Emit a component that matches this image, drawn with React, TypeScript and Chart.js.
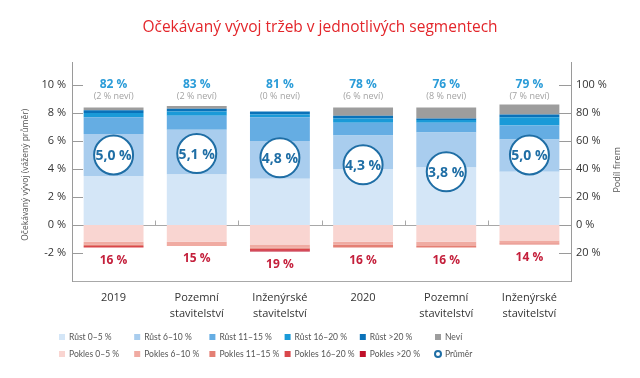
import React, { useEffect, useRef } from 'react';
import { Chart, registerables } from 'chart.js';

Chart.register(...registerables);

const categories = [
  ['2019'],
  ['Pozemní', 'stavitelství'],
  ['Inženýrské', 'stavitelství'],
  ['2020'],
  ['Pozemní', 'stavitelství'],
  ['Inženýrské', 'stavitelství'],
];

const rust0_5 = [35, 36, 33, 40, 41, 38];
const rust6_10 = [30, 32, 27, 24, 25, 23];
const rust11_15 = [12, 10, 17, 9, 7, 10];
const rust16_20 = [3, 3, 2, 3, 2, 6];
const rust20 = [2, 2, 2, 2, 1, 2];
const nevi = [2, 2, 0, 6, 8, 7];
const pokles0_5 = [-12, -12, -14, -12, -12, -11];
const pokles6_10 = [-2, -3, -2, -2, -3, -2];
const pokles11_15 = [-1, 0, -1, -2, -1, -1];
const pokles16_20 = [-1, 0, -1, 0, 0, 0];
const pokles20 = [0, 0, -1, 0, 0, 0];
const rustTotal = [82, 83, 81, 78, 76, 79];
const poklesTotal = [16, 15, 19, 16, 16, 14];
const prumer = [5.0, 5.1, 4.8, 4.3, 3.8, 5.0];

const leftTicks = [-2, 0, 2, 4, 6, 8, 10];
const rightTicks = [-20, 0, 20, 40, 60, 80, 100];

const FONT = '"Open Sans", sans-serif';
const LFONT = 'Lato, "Open Sans", sans-serif';

const C = {
  r1: '#d4e6f7',
  r2: '#a9cdee',
  r3: '#65ade3',
  r4: '#1a9ad8',
  r5: '#0a72b9',
  nevi: '#9d9d9d',
  p1: '#f9d5d1',
  p2: '#f0aba2',
  p3: '#e47f74',
  p4: '#d9474b',
  p5: '#c0102a',
  avg: '#1f6ea5',
};

const legendItems = [
  { label: 'Růst 0–5 %', color: C.r1 },
  { label: 'Růst 6–10 %', color: C.r2 },
  { label: 'Růst 11–15 %', color: C.r3 },
  { label: 'Růst 16–20 %', color: C.r4 },
  { label: 'Růst >20 %', color: C.r5 },
  { label: 'Neví', color: C.nevi },
  { label: 'Pokles 0–5 %', color: C.p1 },
  { label: 'Pokles 6–10 %', color: C.p2 },
  { label: 'Pokles 11–15 %', color: C.p3 },
  { label: 'Pokles 16–20 %', color: C.p4 },
  { label: 'Pokles >20 %', color: C.p5 },
  { label: 'Průměr', color: null },
];

const fmt = (v: number) => v.toFixed(1).replace('.', ',') + ' %';

const underlay = {
  id: 'underlay',
  beforeDatasetsDraw(chart: any) {
    const { ctx, chartArea, scales } = chart;
    const xs = scales.x;
    const yl = scales.y;
    const yr = scales.y2;
    ctx.save();
    ctx.strokeStyle = '#a8a8a8';
    ctx.lineWidth = 1;
    const y0 = Math.round(yl.getPixelForValue(0)) + 0.5;
    ctx.beginPath();
    ctx.moveTo(chartArea.left, y0);
    ctx.lineTo(chartArea.right, y0);
    ctx.stroke();
    for (let i = 1; i < categories.length; i++) {
      const bx = Math.round((xs.getPixelForValue(i - 1) + xs.getPixelForValue(i)) / 2) + 0.5;
      ctx.beginPath();
      ctx.moveTo(bx, y0 - 5);
      ctx.lineTo(bx, y0);
      ctx.stroke();
    }
    ctx.strokeStyle = '#9a9a9a';
    yl.ticks.forEach((t: any) => {
      const py = Math.round(yl.getPixelForValue(t.value)) + 0.5;
      ctx.beginPath();
      ctx.moveTo(chartArea.left, py);
      ctx.lineTo(chartArea.left + 11, py);
      ctx.stroke();
    });
    yr.ticks.forEach((t: any) => {
      const py = Math.round(yr.getPixelForValue(t.value)) + 0.5;
      ctx.beginPath();
      ctx.moveTo(chartArea.right - 12, py);
      ctx.lineTo(chartArea.right, py);
      ctx.stroke();
    });
    ctx.restore();
  },
};

const overlay = {
  id: 'overlay',
  afterDatasetsDraw(chart: any) {
    const { ctx, chartArea, scales } = chart;
    const xs = scales.x;
    const yr = scales.y2;
    ctx.save();
    ctx.textAlign = 'center';
    ctx.textBaseline = 'middle';
    for (let i = 0; i < categories.length; i++) {
      const x = xs.getPixelForValue(i);
      ctx.font = `bold 12px ${FONT}`;
      ctx.fillStyle = '#2b9cd8';
      ctx.fillText(`${rustTotal[i]} %`, x, yr.getPixelForValue(100));
      ctx.font = `9px ${FONT}`;
      ctx.fillStyle = '#a3a3a3';
      ctx.fillText(`(${nevi[i]} % neví)`, x, yr.getPixelForValue(92));
      ctx.font = `bold 12px ${FONT}`;
      ctx.fillStyle = '#c4203c';
      ctx.fillText(`${poklesTotal[i]} %`, x, yr.getPixelForValue(-poklesTotal[i]) + 13);
    }
    const meta = chart.getDatasetMeta(chart.data.datasets.length - 1);
    ctx.font = `bold 14px ${FONT}`;
    ctx.fillStyle = C.avg;
    meta.data.forEach((pt: any, i: number) => {
      ctx.fillText(fmt(prumer[i]), pt.x, pt.y + 1);
    });

    // axis titles
    const cy = (chartArea.top + chartArea.bottom) / 2;
    ctx.fillStyle = '#555';
    ctx.font = `8.5px ${FONT}`;
    ctx.save();
    ctx.translate(26, cy + 3);
    ctx.rotate(-Math.PI / 2);
    ctx.fillText('Očekávaný vývoj (vážený průměr)', 0, 0);
    ctx.restore();
    ctx.save();
    ctx.translate(617, cy - 2);
    ctx.rotate(-Math.PI / 2);
    ctx.font = `9px ${FONT}`;
    ctx.fillText('Podíl firem', 0, 0);
    ctx.restore();

    // legend
    ctx.textAlign = 'left';
    ctx.font = `8.5px ${LFONT}`;
    legendItems.forEach((it, idx) => {
      const col = idx % 6;
      const row = Math.floor(idx / 6);
      const lx = 59 + col * 75.2;
      const ly = 337 + row * 17;
      if (it.color) {
        ctx.fillStyle = it.color;
        ctx.fillRect(lx, ly - 3, 6, 6);
      } else {
        ctx.strokeStyle = C.avg;
        ctx.lineWidth = 2;
        ctx.beginPath();
        ctx.arc(lx + 3, ly, 3, 0, Math.PI * 2);
        ctx.stroke();
      }
      ctx.fillStyle = '#555';
      ctx.fillText(it.label, lx + 10, ly + 0.5);
    });
    ctx.restore();
  },
};

function bar(label: string, data: number[], color: string) {
  return {
    type: 'bar' as const,
    label,
    data,
    backgroundColor: color,
    borderWidth: 0,
    yAxisID: 'y2',
    stack: 's',
    order: 1,
    categoryPercentage: 0.72,
    barPercentage: 1,
  };
}

export default function App() {
  const ref = useRef<HTMLCanvasElement>(null);
  useEffect(() => {
    document.body.style.margin = '0';
    document.body.style.overflow = 'hidden';
    const canvas = ref.current;
    if (!canvas) return;
    const chart = new Chart(canvas, {
      type: 'bar',
      data: {
        labels: categories as any,
        datasets: [
          bar('Růst 0–5 %', rust0_5, C.r1),
          bar('Růst 6–10 %', rust6_10, C.r2),
          bar('Růst 11–15 %', rust11_15, C.r3),
          bar('Růst 16–20 %', rust16_20, C.r4),
          bar('Růst >20 %', rust20, C.r5),
          bar('Neví', nevi, C.nevi),
          bar('Pokles 0–5 %', pokles0_5, C.p1),
          bar('Pokles 6–10 %', pokles6_10, C.p2),
          bar('Pokles 11–15 %', pokles11_15, C.p3),
          bar('Pokles 16–20 %', pokles16_20, C.p4),
          bar('Pokles >20 %', pokles20, C.p5),
          {
            type: 'line' as const,
            label: 'Průměr',
            data: prumer,
            yAxisID: 'y',
            showLine: false,
            order: 0,
            pointRadius: 19.5,
            pointHoverRadius: 19.5,
            pointBackgroundColor: '#ffffff',
            pointBorderColor: C.avg,
            pointBorderWidth: 2,
          } as any,
        ],
      },
      options: {
        animation: false,
        responsive: false,
        maintainAspectRatio: false,
        layout: { padding: 0 },
        plugins: {
          legend: { display: false },
          tooltip: { enabled: false },
          title: {
            display: true,
            text: 'Očekávaný vývoj tržeb v jednotlivých segmentech',
            color: '#e3262b',
            font: { family: FONT, size: 15.5, weight: 'normal' as any },
            padding: { top: 18.5, bottom: 25.5 },
          },
        },
        scales: {
          x: {
            stacked: true,
            offset: true,
            grid: { display: false, drawTicks: false },
            border: { display: true, color: '#a8a8a8' },
            ticks: {
              color: '#333',
              font: { family: FONT, size: 11, lineHeight: 1.45 },
              padding: 9,
              maxRotation: 0,
              autoSkip: false,
            },
            afterFit: (s: any) => {
              s.height = 97;
            },
          },
          y: {
            type: 'linear',
            position: 'left',
            min: -4,
            max: 11.6,
            stacked: false,
            grid: { display: false, drawTicks: false },
            border: { display: true, color: '#9a9a9a' },
            afterBuildTicks: (s: any) => {
              s.ticks = leftTicks.map((v) => ({ value: v }));
            },
            ticks: {
              color: '#333',
              font: { family: FONT, size: 11 },
              padding: 6,
              callback: (v: any) => `${v} %`,
            },
            afterFit: (s: any) => {
              s.width = 72;
            },
          },
          y2: {
            type: 'linear',
            position: 'right',
            min: -40,
            max: 116,
            stacked: true,
            grid: { display: false, drawTicks: false },
            border: { display: true, color: '#9a9a9a' },
            afterBuildTicks: (s: any) => {
              s.ticks = rightTicks.map((v) => ({ value: v }));
            },
            ticks: {
              color: '#333',
              font: { family: FONT, size: 11 },
              padding: 5,
              callback: (v: any) => `${Math.abs(v)} %`,
            },
            afterFit: (s: any) => {
              s.width = 69;
            },
          },
        },
      },
      plugins: [underlay, overlay],
    });
    return () => chart.destroy();
  }, []);
  return (
    <div style={{ width: 640, height: 378, background: '#fff' }}>
      <canvas ref={ref} width={640} height={378} style={{ display: 'block' }} />
    </div>
  );
}
